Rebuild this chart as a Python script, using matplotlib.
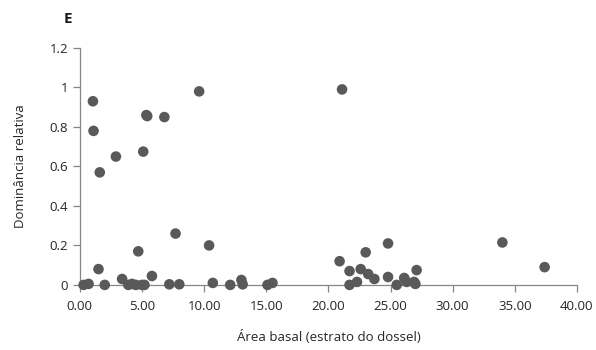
import matplotlib
matplotlib.use( 'Agg' )
import matplotlib.pyplot as plt
from matplotlib.ticker import FormatStrFormatter, FuncFormatter

# area basal (x) vs dominancia relativa (y)
area_basal = [0.3, 0.7, 1.05, 1.1, 1.6, 1.5, 2.0, 2.9, 3.4, 3.9,
	4.2, 4.5, 4.7, 5.0, 5.2, 5.1, 5.35, 5.42, 5.8, 6.8,
	7.2, 7.7, 8.0, 9.6, 10.4, 10.7, 12.1, 13.0, 13.1, 15.1,
	15.5, 20.9, 21.1, 21.7, 21.7, 22.3, 22.6, 23.0, 23.2, 23.7,
	24.8, 24.8, 25.5, 26.1, 26.3, 26.9, 27.0, 27.1, 34.0, 37.4]
dominancia = [0.0, 0.005, 0.93, 0.78, 0.57, 0.08, 0.0, 0.65, 0.03, 0.0,
	0.005, 0.0, 0.17, 0.0, 0.0, 0.675, 0.86, 0.855, 0.045, 0.85,
	0.003, 0.26, 0.003, 0.98, 0.2, 0.01, 0.0, 0.025, 0.003, 0.0,
	0.01, 0.12, 0.99, 0.07, 0.0, 0.015, 0.08, 0.165, 0.055, 0.03,
	0.21, 0.04, 0.0, 0.035, 0.015, 0.015, 0.005, 0.075, 0.215, 0.09]

x_ticks = [0, 5, 10, 15, 20, 25, 30, 35, 40]
y_ticks = [0, 0.2, 0.4, 0.6, 0.8, 1.0, 1.2]

plt.rcParams['font.family'] = ['Open Sans', 'DejaVu Sans']

fig = plt.figure( figsize=(5.96, 3.5), dpi=100 )
ax = fig.add_axes( [0.134, 0.186, 0.834, 0.677] )

ax.scatter( area_basal, dominancia, s=58, color='#595959', edgecolors='none', zorder=3, clip_on=False )

ax.set_xlim( 0, 40 )
ax.set_ylim( 0, 1.2 )
ax.set_xticks( x_ticks )
ax.set_yticks( y_ticks )
ax.xaxis.set_major_formatter( FormatStrFormatter('%.2f') )
ax.yaxis.set_major_formatter( FuncFormatter(lambda v, p: f"{v:g}") )

for side in ['top', 'right']:
	ax.spines[side].set_visible( False )
for side in ['left', 'bottom']:
	ax.spines[side].set_color( '#868686' )
	ax.spines[side].set_linewidth( 0.9 )
ax.tick_params( axis='both', colors='#868686', labelcolor='#262626', labelsize=9.5, length=5, width=0.9, direction='out' )
ax.tick_params( axis='x', pad=6 )

ax.set_xlabel( 'Área basal (estrato do dossel)', fontsize=9.5, color='#262626', labelpad=12 )
ax.set_ylabel( 'Dominância relativa', fontsize=9.5, color='#262626', labelpad=16 )
fig.text( 0.114, 0.945, 'E', fontsize=11, fontweight='bold', ha='center', va='center', color='#1a1a1a' )

fig.savefig( 'out.png', dpi=100 )
